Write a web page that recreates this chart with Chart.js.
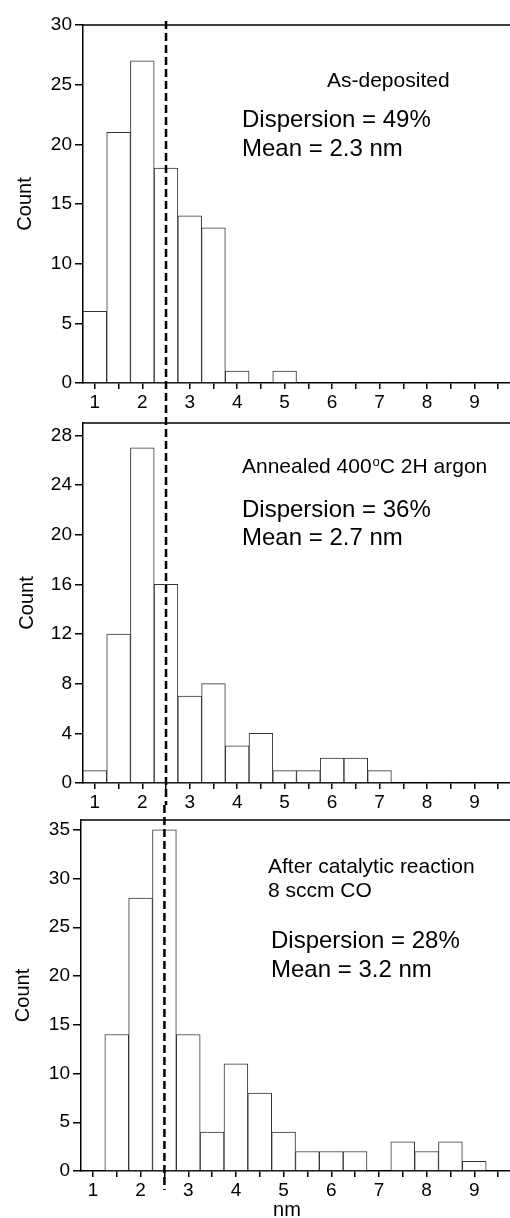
<!DOCTYPE html>
<html>
<head>
<meta charset="utf-8">
<script src="https://cdn.jsdelivr.net/npm/chart.js@4/dist/chart.umd.min.js"></script>
<style>
  html, body { margin: 0; padding: 0; background: #fff; overflow: hidden; }
  canvas { position: absolute; left: 0; }
</style>
</head>
<body>
<canvas id="c1" width="510" height="415" style="top:0px"></canvas>
<canvas id="c2" width="510" height="412" style="top:405px"></canvas>
<canvas id="c3" width="510" height="413" style="top:805px"></canvas>
<script>
// particle size bins (nm), 0.5 nm wide, centred on these values
const binCenters = [1, 1.5, 2, 2.5, 3, 3.5, 4, 4.5, 5, 5.5, 6, 6.5, 7, 7.5, 8, 8.5, 9];
const asDeposited   = [6, 21, 27, 18, 14, 13, 1, 0, 1, 0, 0, 0, 0, 0, 0, 0, 0];
const annealed      = [1, 12, 27, 16, 7, 8, 3, 4, 1, 1, 2, 2, 1, 0, 0, 0, 0];
const afterReaction = [0, 14, 28, 35, 14, 4, 11, 8, 4, 2, 2, 2, 0, 3, 2, 3, 1];
const xTickValues = [1, 1.5, 2, 2.5, 3, 3.5, 4, 4.5, 5, 5.5, 6, 6.5, 7, 7.5, 8, 8.5, 9, 9.5];
const xTickLabels = ['1', '2', '3', '4', '5', '6', '7', '8', '9'];
const yTicks1 = [0, 5, 10, 15, 20, 25, 30];
const yTicks2 = [0, 4, 8, 12, 16, 20, 24, 28];
const yTicks3 = [0, 5, 10, 15, 20, 25, 30, 35];
const meanLine = 2.5;

const notes1 = ['As-deposited', 'Dispersion = 49%', 'Mean = 2.3 nm'];
const notes2 = ['Annealed 400', 'o', 'C 2H argon', 'Dispersion = 36%', 'Mean = 2.7 nm'];
const notes3 = ['After catalytic reaction', '8 sccm CO', 'Dispersion = 28%', 'Mean = 3.2 nm'];

const FONT = '"Liberation Sans", Arial, Helvetica, sans-serif';
Chart.defaults.font.family = FONT;
Chart.defaults.color = '#000';

function font(size) {
    return size + 'px ' + FONT;
}

// top frame, dashed mean line and the text notes
const framePlugin = {
    id: 'frame',
    afterDatasetsDraw(chart, args, opts) {
        const ctx = chart.ctx;
        const area = chart.chartArea;
        ctx.save();
        ctx.strokeStyle = '#000';
        ctx.lineWidth = 1.5;
        ctx.beginPath();
        ctx.moveTo(area.left, area.top);
        ctx.lineTo(area.right, area.top);
        ctx.stroke();

        const x = chart.scales.x.getPixelForValue(meanLine);
        ctx.lineWidth = 2.5;
        ctx.setLineDash([8, 4]);
        ctx.lineDashOffset = opts.dashOffset || 0;
        ctx.beginPath();
        ctx.moveTo(x, opts.lineTop);
        ctx.lineTo(x, opts.lineBottom);
        ctx.stroke();
        ctx.setLineDash([]);

        ctx.fillStyle = '#000';
        ctx.textAlign = 'left';
        ctx.textBaseline = 'alphabetic';
        opts.draw(ctx);
        ctx.restore();
    }
};

function makeChart(id, values, yMax, yTicks, cfg) {
    const ctx = document.getElementById(id).getContext('2d');
    return new Chart(ctx, {
        type: 'bar',
        data: {
            datasets: [{
                data: binCenters.map((x, i) => ({ x: x, y: values[i] })),
                backgroundColor: '#fff',
                borderColor: '#333',
                borderWidth: 1,
                barPercentage: 1,
                categoryPercentage: 1
            }]
        },
        options: {
            responsive: false,
            animation: false,
            layout: { padding: { top: cfg.padTop, left: 0, right: 0, bottom: 0 } },
            plugins: {
                legend: { display: false },
                tooltip: { enabled: false },
                frame: cfg.frame
            },
            scales: {
                x: {
                    type: 'linear',
                    min: 0.75,
                    max: 9.75,
                    offset: false,
                    afterBuildTicks: (scale) => {
                        scale.ticks = xTickValues.map(v => ({ value: v }));
                    },
                    afterFit: (scale) => { scale.height = cfg.xHeight; },
                    ticks: {
                        autoSkip: false,
                        maxRotation: 0,
                        padding: 2,
                        font: { size: 19 },
                        callback: (v) => Number.isInteger(v) ? xTickLabels[v - 1] : ''
                    },
                    grid: {
                        offset: false,
                        drawOnChartArea: false,
                        drawTicks: true,
                        tickLength: 6,
                        color: '#000',
                        lineWidth: 1.5
                    },
                    border: { color: '#000', width: 1.5 }
                },
                y: {
                    min: 0,
                    max: yMax,
                    afterBuildTicks: (scale) => {
                        scale.ticks = yTicks.map(v => ({ value: v }));
                    },
                    afterFit: (scale) => { scale.width = cfg.yWidth; },
                    ticks: {
                        padding: 3,
                        font: { size: 19, lineHeight: 1 }
                    },
                    grid: {
                        drawOnChartArea: false,
                        drawTicks: true,
                        tickLength: 8,
                        color: '#000',
                        lineWidth: 1.5
                    },
                    border: { color: '#000', width: 1.5 },
                    title: {
                        display: true,
                        text: 'Count',
                        font: { size: 20, lineHeight: 1.2 },
                        padding: { top: cfg.titlePad, bottom: 0 }
                    }
                }
            }
        },
        plugins: [framePlugin]
    });
}

makeChart('c1', asDeposited, 30, yTicks1, {
    padTop: 25, xHeight: 32, yWidth: 83, titlePad: 13,
    frame: {
        lineTop: 21, lineBottom: 405, dashOffset: 0,
        draw: (ctx) => {
            ctx.font = font(21);
            ctx.fillText(notes1[0], 327, 87);
            ctx.font = font(24);
            ctx.fillText(notes1[1], 242, 127);
            ctx.fillText(notes1[2], 242, 156);
        }
    }
});

makeChart('c2', annealed, 29, yTicks2, {
    padTop: 18, xHeight: 34, yWidth: 83, titlePad: 15,
    frame: {
        lineTop: 0, lineBottom: 400, dashOffset: 0,
        draw: (ctx) => {
            ctx.font = font(21);
            let x = 242;
            ctx.fillText(notes2[0], x, 68);
            x += ctx.measureText(notes2[0]).width + 1;
            ctx.font = font(13);
            ctx.fillText(notes2[1], x, 61);
            x += ctx.measureText(notes2[1]).width;
            ctx.font = font(21);
            ctx.fillText(notes2[2], x, 68);
            ctx.font = font(24);
            ctx.fillText(notes2[3], 242, 112);
            ctx.fillText(notes2[4], 242, 140);
        }
    }
});

makeChart('c3', afterReaction, 36, yTicks3, {
    padTop: 15, xHeight: 47, yWidth: 81, titlePad: 11,
    frame: {
        lineTop: 0, lineBottom: 385, dashOffset: 0,
        draw: (ctx) => {
            ctx.font = font(21);
            ctx.fillText(notes3[0], 268, 68);
            ctx.fillText(notes3[1], 268, 92);
            ctx.font = font(24);
            ctx.fillText(notes3[2], 271, 143);
            ctx.fillText(notes3[3], 271, 172);
            ctx.font = font(20);
            ctx.textAlign = 'center';
            ctx.fillText('nm', 287, 411);
        }
    }
});
</script>
</body>
</html>
